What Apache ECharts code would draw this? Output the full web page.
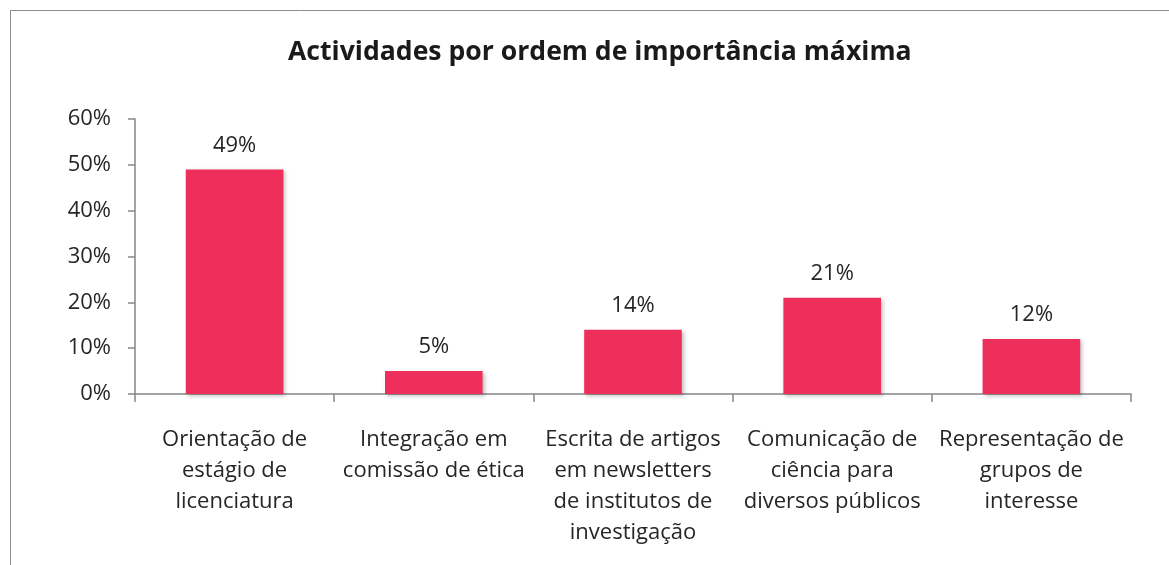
<!DOCTYPE html>
<html>
<head>
<meta charset="utf-8">
<script src="https://cdn.jsdelivr.net/npm/echarts@6/dist/echarts.min.js"></script>
<style>
  html, body { margin: 0; padding: 0; background: #fff; }
  #chart { width: 1169px; height: 565px; }
</style>
</head>
<body>
<div id="chart"></div>
<script>
const categories = [
  'Orientação de\nestágio de\nlicenciatura',
  'Integração em\ncomissão de ética',
  'Escrita de artigos\nem newsletters\nde institutos de\ninvestigação',
  'Comunicação de\nciência para\ndiversos públicos',
  'Representação de\ngrupos de\ninteresse'
]
const values = [49, 5, 14, 21, 12]
const yTicks = [0, 10, 20, 30, 40, 50, 60]

const font = '"Open Sans", sans-serif'
const chart = echarts.init(document.getElementById('chart'))

const option = {
  animation: false,
  backgroundColor: '#fff',
  textStyle: { fontFamily: font },
  title: {
    text: 'Actividades por ordem de importância máxima',
    left: 283,
    top: 34,
    textStyle: { fontFamily: font, fontSize: 26.6, fontWeight: 'bold', color: '#1a1a1a' }
  },
  graphic: [{
    type: 'rect',
    shape: { x: 10.5, y: 10.5, width: 1200, height: 600 },
    style: { fill: 'none', stroke: '#8c8c8c', lineWidth: 1 },
    silent: true
  }],
  grid: { left: 135, right: 38, top: 119, bottom: 171 },
  xAxis: {
    type: 'category',
    data: categories,
    axisLine: { lineStyle: { color: '#868686', width: 1.5 } },
    axisTick: { show: true, length: 8, lineStyle: { color: '#868686', width: 1.5 } },
    axisLabel: {
      interval: 0,
      margin: 30,
      fontSize: 22,
      lineHeight: 31,
      color: '#262626',
      fontFamily: font
    }
  },
  yAxis: {
    type: 'value',
    min: yTicks[0],
    max: yTicks[yTicks.length - 1],
    interval: 10,
    splitLine: { show: false },
    axisLine: { show: true, lineStyle: { color: '#868686', width: 1.5 } },
    axisTick: { show: true, length: 7, lineStyle: { color: '#868686', width: 1.5 } },
    axisLabel: {
      formatter: '{value}%',
      fontSize: 22,
      margin: 24,
      color: '#262626',
      fontFamily: font
    }
  },
  series: [{
    type: 'bar',
    data: values,
    barWidth: '49%',
    itemStyle: {
      color: '#EE2F5B',
      shadowBlur: 4,
      shadowOffsetX: 2,
      shadowOffsetY: 2,
      shadowColor: 'rgba(0,0,0,0.25)'
    },
    label: {
      show: true,
      position: 'top',
      distance: 13,
      formatter: '{c}%',
      fontSize: 22,
      color: '#262626',
      fontFamily: font
    }
  }]
}

chart.setOption(option)
</script>
</body>
</html>
